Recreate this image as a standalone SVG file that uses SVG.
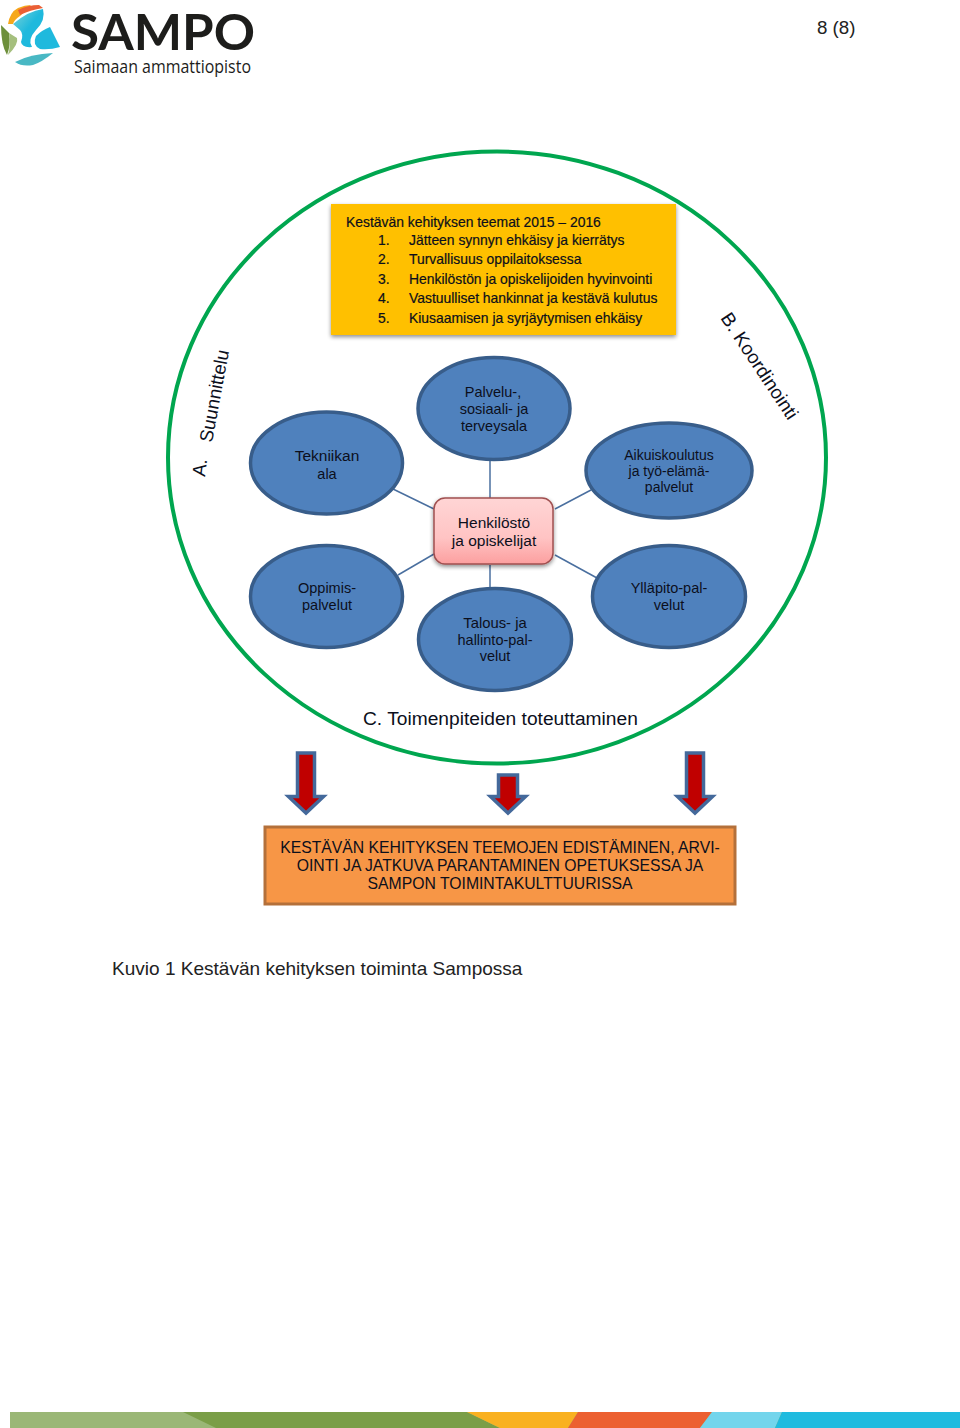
<svg xmlns="http://www.w3.org/2000/svg" width="960" height="1428" viewBox="0 0 960 1428">
<style>
text{font-family:"Liberation Sans",Arial,sans-serif;fill:#0c0f1c}
.m{text-anchor:middle}
.n{fill:#4f81bd;stroke:#385d8a;stroke-width:3.5}
.c{stroke:#4a6f9f;stroke-width:1.5;fill:none}
.a{fill:#c00000;stroke:#44699b;stroke-width:3.5;stroke-linejoin:miter}
.t{font-size:13.9px;stroke:#0c0f1c;stroke-width:.2}
.s14{font-size:14.5px}
.s15{font-size:15.5px}
.o{font-size:15.75px}
</style>
<defs>
<linearGradient id="pink" x1="0" y1="0" x2="0" y2="1"><stop offset="0" stop-color="#ffd5d5"/><stop offset="0.6" stop-color="#ffc4c4"/><stop offset="1" stop-color="#fc9f9f"/></linearGradient>
<linearGradient id="aqua" x1="0" y1="0" x2="1" y2="1"><stop offset="0" stop-color="#7fd3d8"/><stop offset="0.5" stop-color="#1fb9dd"/><stop offset="1" stop-color="#1fb9dd"/></linearGradient>
<filter id="sh" x="-10%" y="-10%" width="120%" height="125%"><feGaussianBlur in="SourceAlpha" stdDeviation="2"/><feOffset dy="2"/><feComponentTransfer><feFuncA type="linear" slope="0.45"/></feComponentTransfer><feMerge><feMergeNode/><feMergeNode in="SourceGraphic"/></feMerge></filter>
</defs>
<rect width="960" height="1428" fill="#fff"/>
<g id="logo">
<path d="M8 24Q10 12 18 8Q25 5 31 5L20 16Q14 20 13 24Z" fill="#f6a81c"/>
<path d="M18 10Q28 5 39 5L43 8Q30 10 20 15Z" fill="#ea5f35"/>
<path d="M13 24Q28 11 43 9Q46 20 36 30Q27 40 32 47Q22 48 21 42Q24 34 20 30Z" fill="url(#aqua)"/>
<path d="M36 36Q42 30 50 27L60 47Q50 50 40 49Q32 45 36 36Z" fill="#1fb9dd"/>
<path d="M15 62Q30 54 53 53Q42 62 33 65Q22 67 15 62Z" fill="#49b8c4"/>
<path d="M1 25L9 33Q11 45 7 55Q1 45 1 25Z" fill="#6d8f3b"/>
<path d="M9 33L17 38Q19 44 8 55Q11 45 9 33Z" fill="#a5bf7d"/>
<text x="71" y="50" font-size="50" font-weight="700" style="font-family:Lato,sans-serif;fill:#1d1d1b" textLength="184" lengthAdjust="spacingAndGlyphs">SAMPO</text>
<text x="74" y="73" font-size="18.5" style="font-family:'Open Sans',sans-serif;fill:#1d1d1b" textLength="177" lengthAdjust="spacingAndGlyphs">Saimaan ammattiopisto</text>
</g>
<text id="page" x="817" y="34" font-size="18.7" style="fill:#222">8 (8)</text>
<ellipse id="circle" cx="497" cy="457.500" rx="329" ry="306" fill="none" stroke="#00a64f" stroke-width="4"/>
<g id="connectors">
<line class="c" x1="490" y1="460" x2="490" y2="498"/>
<line class="c" x1="393" y1="489" x2="434" y2="509"/>
<line class="c" x1="555" y1="509" x2="591" y2="490"/>
<line class="c" x1="398" y1="575" x2="434" y2="554"/>
<line class="c" x1="490" y1="565" x2="490" y2="588"/>
<line class="c" x1="555" y1="555" x2="597" y2="578"/>
</g>
<g id="themes">
<rect x="331" y="204" width="345" height="131" fill="#ffc000" filter="url(#sh)"/>
<text x="346" y="227" class="t">Kestävän kehityksen teemat 2015 – 2016</text>
<text x="378" y="245" class="t">1.</text><text x="409" y="245" class="t">Jätteen synnyn ehkäisy ja kierrätys</text>
<text x="378" y="264" class="t">2.</text><text x="409" y="264" class="t">Turvallisuus oppilaitoksessa</text>
<text x="378" y="284" class="t">3.</text><text x="409" y="284" class="t">Henkilöstön ja opiskelijoiden hyvinvointi</text>
<text x="378" y="303" class="t">4.</text><text x="409" y="303" class="t">Vastuulliset hankinnat ja kestävä kulutus</text>
<text x="378" y="323" class="t">5.</text><text x="409" y="323" class="t">Kiusaamisen ja syrjäytymisen ehkäisy</text>
</g>
<g id="node-palvelu">
<ellipse class="n" cx="494" cy="408.500" rx="76" ry="51"/>
<text class="m s14" x="493" y="397">Palvelu-,</text><text class="m s14" x="494" y="414">sosiaali- ja</text><text class="m s14" x="494" y="431">terveysala</text>
</g>
<g id="node-tekniikan">
<ellipse class="n" cx="326.500" cy="463" rx="76" ry="51"/>
<text class="m s15" x="327" y="461">Tekniikan</text><text class="m s14" x="327" y="479">ala</text>
</g>
<g id="node-aikuis">
<ellipse class="n" cx="669" cy="470.500" rx="83" ry="47.500"/>
<text class="m" font-size="14" x="669" y="460">Aikuiskoulutus</text><text class="m" font-size="14" x="669" y="476">ja työ-elämä-</text><text class="m" font-size="14" x="669" y="492">palvelut</text>
</g>
<g id="node-henkilosto">
<rect x="434" y="498" width="119" height="66" rx="11" fill="url(#pink)" stroke="#a05050" stroke-width="1.500" filter="url(#sh)"/>
<text class="m s15" x="494" y="528">Henkilöstö</text><text class="m s15" x="494" y="546">ja opiskelijat</text>
</g>
<g id="node-oppimis">
<ellipse class="n" cx="326.500" cy="596.500" rx="76" ry="51"/>
<text class="m s14" x="327" y="593">Oppimis-</text><text class="m s14" x="327" y="610">palvelut</text>
</g>
<g id="node-yllapito">
<ellipse class="n" cx="669" cy="596.500" rx="76.500" ry="51"/>
<text class="m s14" x="669" y="593">Ylläpito-pal-</text><text class="m s14" x="669" y="610">velut</text>
</g>
<g id="node-talous">
<ellipse class="n" cx="495" cy="639.500" rx="76.500" ry="51"/>
<text class="m" font-size="14.8" x="495" y="628">Talous- ja</text><text class="m s14" x="495" y="645">hallinto-pal-</text><text class="m s14" x="495" y="661">velut</text>
</g>
<g id="label-a">
<text font-size="18.700" transform="translate(205 477) rotate(-83)">A.</text>
<text font-size="18.700" transform="translate(212 443) rotate(-79.500)">Suunnittelu</text>
</g>
<text id="label-b" font-size="19" transform="translate(720 318) rotate(56.500)">B. Koordinointi</text>
<text id="label-c" x="363" y="725" font-size="19.200">C. Toimenpiteiden toteuttaminen</text>
<g id="arrows">
<path class="a" d="M297.500 753H314.500V796.500H323.500L306 813L288.500 796.500H297.500Z"/>
<path class="a" d="M498.500 775H517.500V796.500H525.500L508 813L490.500 796.500H498.500Z"/>
<path class="a" d="M686.500 753H703.500V796.500H712.500L695 813L677.500 796.500H686.500Z"/>
</g>
<g id="outcome">
<rect x="265" y="827" width="470" height="77" fill="#f79646" stroke="#b4703a" stroke-width="3"/>
<text class="m o" x="500" y="852.500">KESTÄVÄN KEHITYKSEN TEEMOJEN EDISTÄMINEN, ARVI-</text>
<text class="m o" x="500" y="870.500">OINTI JA JATKUVA PARANTAMINEN OPETUKSESSA JA</text>
<text class="m o" x="500" y="888.500">SAMPON TOIMINTAKULTTUURISSA</text>
</g>
<text id="caption" x="112" y="975" font-size="19.050" style="fill:#222">Kuvio 1 Kestävän kehityksen toiminta Sampossa</text>
<g id="footer">
<rect x="10" y="1412" width="950" height="16" fill="#9ab776"/>
<path d="M183 1412H467L500 1428H216Z" fill="#7a9e47"/>
<path d="M467 1412H578L568 1428H500Z" fill="#f9b121"/>
<path d="M578 1412H712L700 1428H568Z" fill="#ec6031"/>
<path d="M712 1412H782L775 1428H700Z" fill="#73d5ec"/>
<path d="M782 1412H960V1428H775Z" fill="#1fbbdf"/>
</g>
</svg>
